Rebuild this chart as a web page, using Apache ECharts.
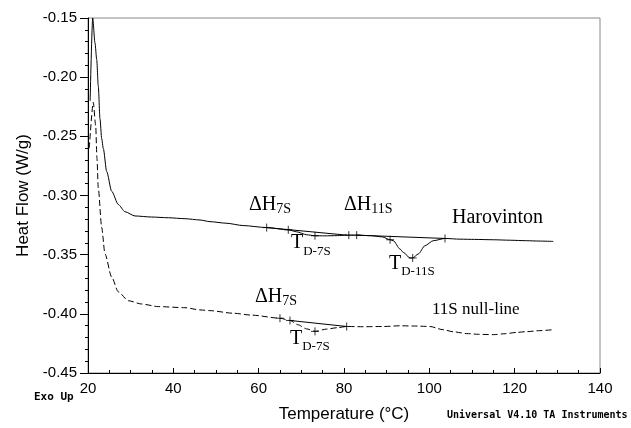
<!DOCTYPE html>
<html>
<head>
<meta charset="utf-8">
<style>
  html, body { margin: 0; padding: 0; background: #fff; }
  #chart { width: 631px; height: 428px; }
</style>
<script src="https://cdn.jsdelivr.net/npm/echarts@6/dist/echarts.min.js"></script>
</head>
<body>
<div id="chart"></div>
<script>
// Harovinton sample (solid)
const tempHaro = [20.5, 21.1, 21.64, 22.04, 22.41, 22.81, 23.21, 23.59, 24.38, 25.55, 27.1, 28.67, 31.01, 34.93, 38.82, 42.73, 46.25, 48.59, 52.34, 56.37,
  61.88, 66.94, 68.91, 71.25, 73.2, 75.45, 78.45, 80.63, 82.97, 86.44, 89.0, 90.8, 91.55, 93.12, 93.89, 95.46, 96.1, 97.41, 98.98, 100.92,
  103.67, 107.18, 110.6, 114.99, 118.99, 122.81, 125.69, 129.05];
const flowHaro = [-0.22, -0.15, -0.1711, -0.1851, -0.2074, -0.2352, -0.2519, -0.2603, -0.2797, -0.2964, -0.3076, -0.3137, -0.3173, -0.3182, -0.3188, -0.3196, -0.3207, -0.3221, -0.3234, -0.3254,
  -0.3271, -0.329, -0.3307, -0.3332, -0.334, -0.3341, -0.3339, -0.3335, -0.3335, -0.334, -0.335, -0.3374, -0.3382, -0.3452, -0.348, -0.3528, -0.3528, -0.3494, -0.3424, -0.3382,
  -0.3363, -0.3369, -0.3371, -0.3374, -0.3378, -0.3382, -0.3385, -0.3388];

// 11S null-line (dashed)
const tempNull = [20.3, 21.24, 21.8, 22.1, 22.41, 23.21, 23.98, 25.55, 27.1, 29.44, 32.58, 36.48, 42.73, 46.25, 48.59, 54.05, 58.39, 64.99, 67.34, 69.19,
  71.21, 73.2, 75.94, 78.45, 80.63, 84.47, 89.21, 93.12, 96.52, 100.15, 103.2, 105.68, 108.75, 111.59, 114.99, 117.77, 120.47, 122.58, 125.93, 129.05];
const flowNull = [-0.26, -0.2213, -0.2408, -0.2686, -0.2937, -0.3271, -0.3494, -0.3689, -0.3814, -0.3889, -0.3917, -0.3939, -0.3948, -0.3967, -0.3973, -0.3995, -0.4011, -0.4037, -0.4056, -0.4092,
  -0.4127, -0.4148, -0.4129, -0.4117, -0.4107, -0.4109, -0.4107, -0.4101, -0.4103, -0.4107, -0.4134, -0.4152, -0.4167, -0.4173, -0.4176, -0.4168, -0.4157, -0.4151, -0.4142, -0.4134];

// integration baselines [T1, HF1, T2, HF2]
const base7S = [61.88, -0.3271, 80.63, -0.3335];
const base11S = [82.97, -0.3335, 103.67, -0.3363];
const baseNull7S = [67.34, -0.4056, 80.63, -0.4107];

// "+" analysis marks
const markT = [61.88, 66.94, 73.2, 81.13, 82.97, 90.8, 96.1, 103.67, 64.99, 67.34, 73.2, 80.63];
const markHF = [-0.3271, -0.329, -0.334, -0.3335, -0.3335, -0.3374, -0.3528, -0.3363, -0.4037, -0.4056, -0.4148, -0.4107];

// annotations: left edge / baseline of main text in data units
const notes = [
  { t: 57.73, hf: -0.3162, main: 'ΔH', sub: '7S', size: 20, subSize: 14, drop: 2 },
  { t: 67.57, hf: -0.348, main: 'T', sub: 'D-7S', size: 20, subSize: 13, drop: 6 },
  { t: 80.0, hf: -0.3162, main: 'ΔH', sub: '11S', size: 20, subSize: 14, drop: 2 },
  { t: 90.54, hf: -0.3664, main: 'T', sub: 'D-11S', size: 20, subSize: 13, drop: 4 },
  { t: 105.3, hf: -0.3271, main: 'Harovinton', sub: '', size: 20, subSize: 13, drop: 0 },
  { t: 59.14, hf: -0.3939, main: 'ΔH', sub: '7S', size: 20, subSize: 14, drop: 2 },
  { t: 67.34, hf: -0.4299, main: 'T', sub: 'D-7S', size: 20, subSize: 13, drop: 4 },
  { t: 100.62, hf: -0.4037, main: '11S null-line', sub: '', size: 17, subSize: 13, drop: 0 }
];

const zip = (xs, ys) => xs.map((x, i) => [x, ys[i]]);
const seg = s => [[s[0], s[1]], [s[2], s[3]]];

const chart = echarts.init(document.getElementById('chart'));
const serif = 'Liberation Serif';
const sans = 'Liberation Sans';

const option = {
  animation: false,
  grid: { left: 88, right: 31, top: 18, bottom: 51, show: true, borderColor: '#888', borderWidth: 1 },
  xAxis: {
    type: 'value', min: 20, max: 140, interval: 20,
    name: 'Temperature (°C)', nameLocation: 'middle', nameGap: 33,
    nameTextStyle: { fontFamily: sans, fontSize: 17, color: '#000' },
    axisLine: { lineStyle: { color: '#000' } },
    axisTick: { inside: true, length: 5, lineStyle: { color: '#000' } },
    minorTick: { show: true, splitNumber: 4, length: 3, lineStyle: { color: '#000' } },
    axisLabel: { fontFamily: sans, fontSize: 15, color: '#000', margin: 8 },
    splitLine: { show: false }
  },
  yAxis: {
    type: 'value', min: -0.45, max: -0.15, interval: 0.05,
    name: 'Heat Flow (W/g)', nameLocation: 'middle', nameGap: 56,
    nameTextStyle: { fontFamily: sans, fontSize: 17, color: '#000' },
    axisLine: { lineStyle: { color: '#000' } },
    axisTick: { length: 8, lineStyle: { color: '#000' } },
    minorTick: { show: true, splitNumber: 5, length: 3, lineStyle: { color: '#000' } },
    axisLabel: { fontFamily: sans, fontSize: 15, color: '#000', margin: 11, formatter: v => v.toFixed(2) },
    splitLine: { show: false }
  },
  series: [
    {
      type: 'line', data: zip(tempHaro, flowHaro), showSymbol: false, clip: true,
      smooth: 0.25, smoothMonotone: 'x',
      lineStyle: { color: '#000', width: 1 }
    },
    {
      type: 'line', data: zip(tempNull, flowNull), showSymbol: false, clip: true,
      smooth: 0.25, smoothMonotone: 'x',
      lineStyle: { color: '#000', width: 1, type: [6, 3] }
    },
    { type: 'line', data: seg(base7S), showSymbol: false, lineStyle: { color: '#000', width: 1 } },
    { type: 'line', data: seg(base11S), showSymbol: false, lineStyle: { color: '#000', width: 1 } },
    { type: 'line', data: seg(baseNull7S), showSymbol: false, lineStyle: { color: '#000', width: 1 } },
    {
      type: 'scatter', data: zip(markT, markHF),
      symbol: 'path://M4,0L4,8M0,4L8,4', symbolSize: 8,
      itemStyle: { color: 'none', borderColor: '#000', borderWidth: 1 }
    }
  ],
  graphic: []
};
chart.setOption(option);

// place annotation texts from data coordinates
const ctx = document.createElement('canvas').getContext('2d');
const graphics = [];
notes.forEach(n => {
  const p = chart.convertToPixel({ gridIndex: 0 }, [n.t, n.hf]);
  graphics.push({
    type: 'text', x: p[0], y: p[1], silent: true,
    style: { text: n.main, font: n.size + 'px "' + serif + '"', fill: '#000', textBaseline: 'alphabetic', verticalAlign: 'bottom' }
  });
  if (n.sub) {
    ctx.font = n.size + 'px "' + serif + '"';
    const w = ctx.measureText(n.main).width;
    graphics.push({
      type: 'text', x: p[0] + w, y: p[1] + n.drop, silent: true,
      style: { text: n.sub, font: n.subSize + 'px "' + serif + '"', fill: '#000', textBaseline: 'alphabetic', verticalAlign: 'bottom' }
    });
  }
});
graphics.push({
  type: 'text', left: 34, top: 392, silent: true,
  style: { text: 'Exo Up', font: 'bold 11px "DejaVu Sans Mono"', fill: '#000' }
});
graphics.push({
  type: 'text', left: 447, top: 410, silent: true,
  style: { text: 'Universal V4.10 TA Instruments', font: 'bold 10px "DejaVu Sans Mono"', fill: '#000' }
});
chart.setOption({ graphic: graphics });
</script>
</body>
</html>
